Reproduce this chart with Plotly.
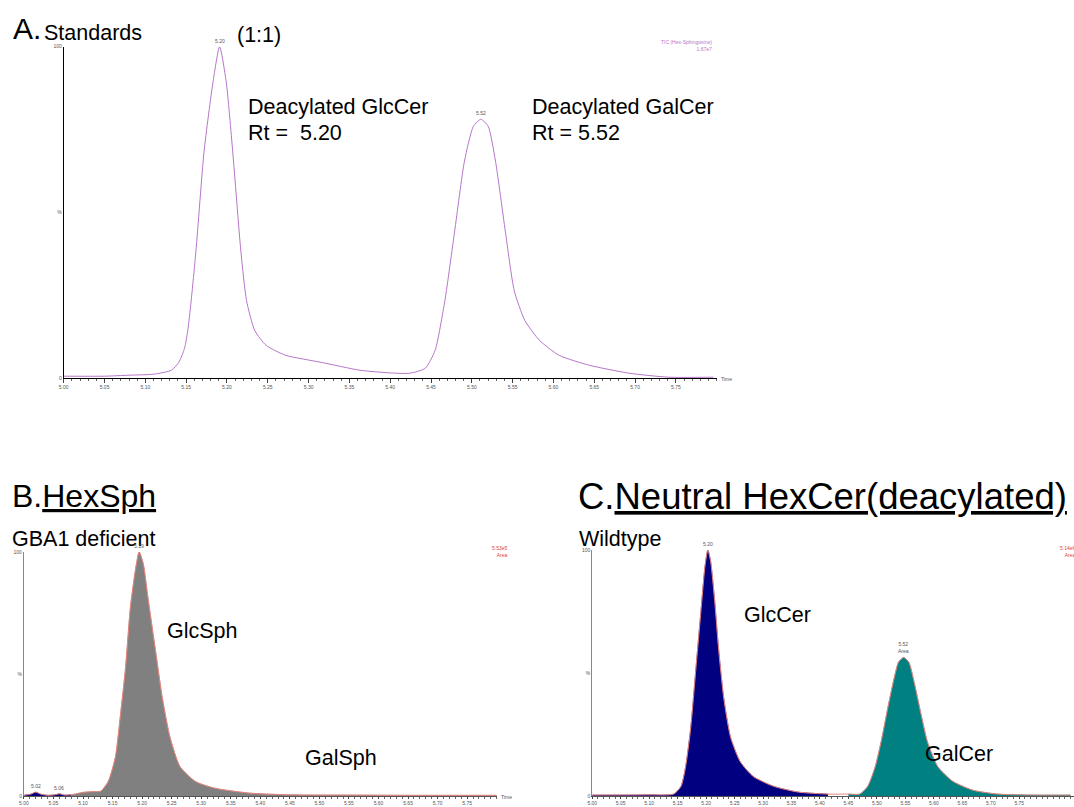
import plotly.graph_objects as go

W, H = 1074, 807

# ---------------- data ----------------
# Panel A: standards TIC, relative intensity (%)
time_a = [5.00, 5.05, 5.08, 5.11, 5.132, 5.141, 5.148, 5.152, 5.156, 5.162, 5.172, 5.183, 5.191,
          5.199, 5.207, 5.217, 5.224, 5.234, 5.248, 5.272, 5.315, 5.363, 5.40, 5.424,
          5.443, 5.455, 5.467, 5.479, 5.491, 5.502, 5.511, 5.520, 5.529, 5.541, 5.552,
          5.565, 5.583, 5.607, 5.644, 5.693, 5.741, 5.796]
std_a = [0.6, 0.6, 0.9, 1.2, 2.4, 4.8, 9.0, 14.4, 23.0, 38.4, 68.5, 89.5, 100.0,
         89.5, 68.5, 38.4, 23.4, 14.4, 9.9, 6.9, 4.8, 2.4, 1.6, 1.5,
         3.0, 8.4, 23.4, 44.4, 65.5, 76.0, 78.1, 76.0, 65.5, 44.4, 26.4,
         17.4, 11.4, 6.9, 3.9, 1.5, 0.3, 0.3]

# Panel B: HexSph, GBA1 deficient (%)
time_b = [5.00, 5.012, 5.02, 5.028, 5.04, 5.052, 5.06, 5.068, 5.08, 5.10, 5.115, 5.130, 5.143,
          5.155, 5.163, 5.172, 5.180, 5.189, 5.195, 5.202, 5.210, 5.222, 5.234, 5.247,
          5.264, 5.290, 5.323, 5.382, 5.45, 5.55, 5.65, 5.80]
sph_b = [0.3, 0.8, 1.6, 0.8, 0.3, 0.5, 0.9, 0.4, 0.5, 1.5, 1.8, 2.0, 6.1,
         16.2, 32.4, 52.6, 76.9, 93.1, 100.0, 95.1, 81.0, 60.7, 40.5, 24.3,
         12.1, 6.0, 3.2, 1.2, 0.5, 0.4, 0.3, 0.3]

# Panel C: neutral HexCer (deacylated), wildtype (%)
time_c = [5.00, 5.10, 5.143, 5.156, 5.164, 5.173, 5.182, 5.191, 5.198, 5.203, 5.208, 5.215,
          5.222, 5.231, 5.243, 5.260, 5.283, 5.318, 5.362, 5.414, 5.45, 5.470, 5.484,
          5.497, 5.509, 5.519, 5.530, 5.538, 5.547, 5.556, 5.566, 5.577, 5.589, 5.607,
          5.633, 5.668, 5.712, 5.78, 5.84]
cer_c = [0.4, 0.5, 0.8, 4.0, 11.9, 27.8, 51.6, 75.4, 93.3, 100.0, 95.2, 79.4,
         59.5, 39.7, 23.8, 13.9, 7.9, 4.0, 1.6, 0.8, 0.8, 0.8, 4.0,
         11.9, 23.8, 35.7, 47.6, 54.4, 56.3, 54.4, 45.6, 33.7, 21.8, 11.9,
         6.0, 2.4, 0.8, 0.4, 0.4]
split_c = 5.43   # boundary between GlcCer and GalCer fills
split_b = 5.085  # boundary between small early peaks and GlcSph fill

tick_vals = [5.00, 5.05, 5.10, 5.15, 5.20, 5.25, 5.30, 5.35, 5.40, 5.45, 5.50, 5.55, 5.60, 5.65, 5.70, 5.75]
tick_text = ["5.00", "5.05", "5.10", "5.15", "5.20", "5.25", "5.30", "5.35", "5.40", "5.45",
             "5.50", "5.55", "5.60", "5.65", "5.70", "5.75"]
ytick_vals = [0, 50, 100]
ytick_text = ["0", "%", "100"]

FONT = "Arial, Liberation Sans, sans-serif"
PURPLE = "#b575c9"
SALMON = "#e8837a"
GRAY = "#808080"
NAVY = "#000080"
TEAL = "#008080"


def px(x):
    return x / W


def py(y):
    return 1 - y / H


fig = go.Figure()

# Panel A
fig.add_trace(go.Scatter(x=time_a, y=std_a, mode="lines",
                         line=dict(color=PURPLE, width=1, shape="spline", smoothing=0.6),
                         xaxis="x", yaxis="y", hoverinfo="skip"))

# Panel B
bx1 = [t for t in time_b if t <= split_b]
by1 = [v for t, v in zip(time_b, sph_b) if t <= split_b]
bx2 = [t for t in time_b if t >= split_b - 0.01]
by2 = [v for t, v in zip(time_b, sph_b) if t >= split_b - 0.01]
fig.add_trace(go.Scatter(x=bx1, y=by1, mode="lines", fill="tozeroy", fillcolor=NAVY,
                         line=dict(color=NAVY, width=0.5, shape="spline", smoothing=0.6),
                         xaxis="x2", yaxis="y2", hoverinfo="skip"))
fig.add_trace(go.Scatter(x=bx2, y=by2, mode="lines", fill="tozeroy", fillcolor=GRAY,
                         line=dict(color=GRAY, width=0.5, shape="spline", smoothing=0.6),
                         xaxis="x2", yaxis="y2", hoverinfo="skip"))
fig.add_trace(go.Scatter(x=time_b, y=sph_b, mode="lines",
                         line=dict(color=SALMON, width=1, shape="spline", smoothing=0.6),
                         xaxis="x2", yaxis="y2", hoverinfo="skip"))

# Panel C
cx1 = [t for t in time_c if t <= split_c]
cy1 = [v for t, v in zip(time_c, cer_c) if t <= split_c]
cx2 = [t for t in time_c if t >= split_c]
cy2 = [v for t, v in zip(time_c, cer_c) if t >= split_c]
fig.add_trace(go.Scatter(x=cx1, y=cy1, mode="lines", fill="tozeroy", fillcolor=NAVY,
                         line=dict(color=NAVY, width=0.5, shape="spline", smoothing=0.6),
                         xaxis="x3", yaxis="y3", hoverinfo="skip"))
fig.add_trace(go.Scatter(x=cx2, y=cy2, mode="lines", fill="tozeroy", fillcolor=TEAL,
                         line=dict(color=TEAL, width=0.5, shape="spline", smoothing=0.6),
                         xaxis="x3", yaxis="y3", hoverinfo="skip"))
fig.add_trace(go.Scatter(x=time_c, y=cer_c, mode="lines",
                         line=dict(color=SALMON, width=1, shape="spline", smoothing=0.6),
                         xaxis="x3", yaxis="y3", hoverinfo="skip"))


def xaxis(dom, rng, anchor, linecolor, ticklen=4):
    return dict(domain=dom, range=rng, anchor=anchor, showgrid=False, zeroline=False,
                showline=True, linecolor=linecolor, linewidth=1,
                tickmode="array", tickvals=tick_vals, ticktext=tick_text,
                ticks="outside", ticklen=ticklen, tickwidth=1, tickcolor="#444",
                tickfont=dict(size=5, color="#555", family=FONT),
                minor=dict(ticks="outside", ticklen=2, dtick=0.01, tickcolor="#666", showgrid=False),
                fixedrange=True)


def yaxis(dom, anchor, linecolor):
    return dict(domain=dom, range=[0, 100], anchor=anchor, showgrid=False, zeroline=False,
                showline=True, linecolor=linecolor, linewidth=1,
                tickmode="array", tickvals=ytick_vals, ticktext=ytick_text,
                ticks="", tickfont=dict(size=5, color="#555", family=FONT),
                fixedrange=True)


fig.update_layout(
    width=W, height=H,
    margin=dict(l=0, r=0, t=0, b=0),
    paper_bgcolor="white", plot_bgcolor="rgba(0,0,0,0)",
    showlegend=False,
    font=dict(family=FONT, color="black"),
    xaxis=xaxis([px(59), px(715)], [5.0, 5.8], "y", "black"),
    yaxis=yaxis([py(378), py(44)], "x", "black"),
    xaxis2=xaxis([px(19), px(494)], [5.0, 5.8], "y2", "#555", ticklen=2),
    yaxis2=yaxis([py(799), py(553)], "x2", "#888"),
    xaxis3=xaxis([px(590), px(1074)], [5.0, 5.0 + 484 / 572], "y3", "#555", ticklen=2),
    yaxis3=yaxis([py(799), py(551)], "x3", "#888"),
)

ann = []


def txt(x, y, s, size, color="black", xanchor="left", yanchor="middle", align="left"):
    ann.append(dict(x=px(x), y=py(y), xref="paper", yref="paper", text=s, showarrow=False,
                    xanchor=xanchor, yanchor=yanchor, align=align,
                    font=dict(size=size, color=color, family=FONT)))


MID = 21.5
# Panel A text
txt(6, 26, "A.", 30)
txt(37, 30, "Standards", MID)
txt(231, 32, "(1:1)", MID)
txt(242, 105, "Deacylated GlcCer", MID)
txt(242, 131, "Rt =  5.20", MID)
txt(527, 105, "Deacylated GalCer", MID)
txt(527, 131, "Rt = 5.52", MID)
txt(712, 43, "TIC (Hex-Sphingosine)<br>1.67e7", 5, color=PURPLE, xanchor="right", align="right")
txt(717, 379, "Time", 5, color="#555")

# Panel B text
txt(5, 497, "B.<u>HexSph</u>", 32)
txt(5, 540, "GBA1 deficient", MID)
txt(161, 633, "GlcSph", MID)
txt(299, 761, "GalSph", MID)
txt(507, 553, "5.53e5<br>Area", 5, color="#e04040", xanchor="right", align="right")
txt(496, 800, "Time", 5, color="#555")

# Panel C text
txt(574, 497, "C.<u>Neutral HexCer(deacylated)</u>", 36.5)
txt(575, 540, "Wildtype", MID)
txt(740, 617, "GlcCer", MID)
txt(922, 757, "GalCer", MID)
txt(1078, 553, "5.14e6<br>Area", 5, color="#e04040", xanchor="right", align="right")

# Peak labels (data-anchored)
peak_labels = [
    ("x", "y", 5.191, 100, "5.20"),
    ("x", "y", 5.511, 78.1, "5.52"),
    ("x2", "y2", 5.195, 100, "5.19"),
    ("x2", "y2", 5.02, 1.6, "5.02"),
    ("x2", "y2", 5.06, 0.9, "5.06"),
    ("x3", "y3", 5.203, 100, "5.20"),
    ("x3", "y3", 5.547, 56.3, "5.52<br>Area"),
]
for xr, yr, xv, yv, s in peak_labels:
    ann.append(dict(x=xv, y=yv, xref=xr, yref=yr, text=s, showarrow=False,
                    xanchor="center", yanchor="bottom", yshift=1,
                    font=dict(size=5, color="#555", family=FONT)))

fig.update_layout(annotations=ann)

fig.write_html("out.html", config={"displayModeBar": False},
               post_script="document.body.style.margin='0';document.body.style.overflow='hidden';")
